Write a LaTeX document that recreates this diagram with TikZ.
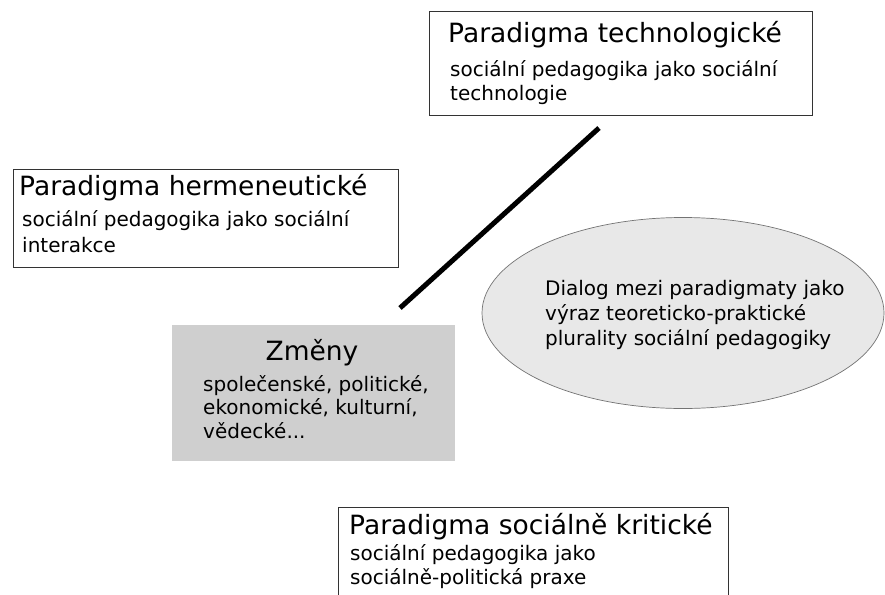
\documentclass[tikz,border=0pt]{standalone}
\usepackage{fontspec}
\setmainfont{DejaVu Sans}
\usetikzlibrary{shapes.geometric}
\newcommand{\radky}[1]{\begin{tabular}[t]{@{}l@{}}#1\end{tabular}}

\begin{document}
\begin{tikzpicture}[x=1pt,y=-1pt,
  frame/.style={draw=black!80,line width=0.9pt,rectangle,inner sep=0pt,anchor=north west},
  head/.style={anchor=base west,inner sep=0pt,font=\fontsize{26.5}{30}\selectfont},
  body/.style={anchor=base west,inner sep=0pt,font=\fontsize{20}{24}\selectfont}]
\clip (0,0) rectangle (885,594);
% paradigma boxes
\node[frame,minimum width=383pt,minimum height=104pt] (tech) at (429,11) {};
\node[head] (techH) at (448,43) {Paradigma technologické};
\node[body] (techB) at (450,77) {\radky{sociální pedagogika jako sociální\\technologie}};
\node[frame,minimum width=385pt,minimum height=98pt] (herm) at (13,169) {};
\node[head] (hermH) at (19,195) {Paradigma hermeneutické};
\node[body,font=\fontsize{20}{26}\selectfont] (hermB) at (22,226) {\radky{sociální pedagogika jako sociální\\interakce}};
\node[frame,minimum width=390pt,minimum height=120pt] (krit) at (338,507) {};
\node[head] (kritH) at (349,534) {Paradigma sociálně kritické};
\node[body] (kritB) at (350,560) {\radky{sociální pedagogika jako\\sociálně-politická praxe}};
% zmeny
\node[rectangle,fill=black!19,inner sep=0pt,anchor=north west,minimum width=283pt,minimum height=136pt] (zmeny) at (172,325) {};
\node[head,anchor=base] (zmenyH) at (312,360) {Změny};
\node[body,font=\fontsize{20}{23.5}\selectfont] (zmenyB) at (203,391) {\radky{společenské, politické,\\ekonomické, kulturní,\\vědecké...}};
% dialog
\node[ellipse,draw=black!55,line width=0.7pt,fill=black!9,minimum width=402pt,minimum height=191pt,inner sep=0pt] (dialog) at (683,313) {};
\node[body,font=\fontsize{20}{25}\selectfont] (dialogT) at (545,295) {\radky{Dialog mezi paradigmaty jako\\výraz teoreticko-praktické\\plurality sociální pedagogiky}};
\coordinate (lineA) at (400,308); \coordinate (lineB) at (599,128);
\draw[line width=5pt] (lineA) -- (lineB);
\end{tikzpicture}
\end{document}
